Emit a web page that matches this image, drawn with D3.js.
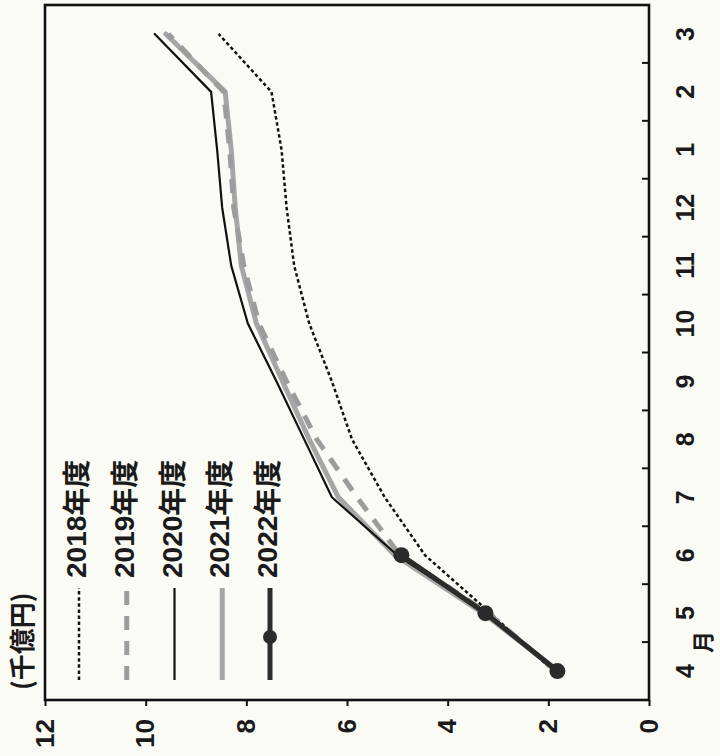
<!DOCTYPE html>
<html><head><meta charset="utf-8">
<script src="https://cdn.jsdelivr.net/npm/d3@7"></script>
<style>
html,body{margin:0;padding:0;background:#fbfbf5;}
svg{display:block;}
</style></head>
<body>
<svg id="chart" width="720" height="756"></svg>
<script>
const months = ["4","5","6","7","8","9","10","11","12","1","2","3"];
const yTicks = [0,2,4,6,8,10,12];
const seriesNames = ["2018年度","2019年度","2020年度","2021年度","2022年度"];
const v2018 = [1.9, 3.15, 4.45, 5.25, 5.9, 6.3, 6.75, 7.05, 7.2, 7.3, 7.5, 8.55];
const v2019 = [1.85, 3.2, 4.95, 5.8, 6.6, 7.2, 7.75, 8.05, 8.25, 8.33, 8.45, 9.55];
const v2020 = [1.85, 3.25, 5.0, 6.3, 6.85, 7.4, 7.97, 8.3, 8.48, 8.58, 8.7, 9.82];
const v2021 = [1.8, 3.3, 5.05, 6.17, 6.75, 7.28, 7.8, 8.1, 8.22, 8.3, 8.42, 9.6];
const v2022 = [1.82, 3.25, 4.92];
const unitLabel = "(千億円)";
const monthUnit = "月";

const svg = d3.select("#chart");
svg.append("rect").attr("width",720).attr("height",756).attr("fill","#fbfbf5");
// chart drawn in its own upright frame (756 wide x 720 tall), then turned a quarter to the left
const g = svg.append("g").attr("transform","translate(0,756) rotate(-90)");

const L = 56, R = 751, T = 45, B = 649;
const x = d3.scaleBand().domain(months).range([L,R]);
const y = d3.scaleLinear().domain([0,12]).range([B,T]);

const numFont = "'Liberation Sans Narrow','Arial Narrow','Liberation Sans',sans-serif";
const cjkFont = "'Noto Sans CJK JP','Noto Sans CJK SC',sans-serif";

const styles = {
  "2018年度": {stroke:"#111", width:2.5, dash:"3.5,2.6"},
  "2019年度": {stroke:"#9c9c9c", width:5, dash:"14,11"},
  "2020年度": {stroke:"#111", width:2.2, dash:null},
  "2021年度": {stroke:"#a6a6a6", width:5, dash:null},
  "2022年度": {stroke:"#2b2b2b", width:5, dash:null, marker:true}
};
const dataMap = {"2018年度":v2018,"2019年度":v2019,"2020年度":v2020,"2021年度":v2021,"2022年度":v2022};
const drawOrder = ["2018年度","2021年度","2019年度","2020年度","2022年度"];

const line = d3.line().x((d,i)=>x(months[i])+x.bandwidth()/2).y(d=>y(d));

// value axis (left in upright frame)
const ya = g.append("g").attr("transform",`translate(${L},0)`)
  .call(d3.axisLeft(y).tickValues(yTicks).tickSize(6).tickPadding(13).tickFormat(d3.format("d")));
ya.select(".domain").remove();
ya.selectAll(".tick line").attr("stroke","#111").attr("stroke-width",2);
ya.selectAll(".tick text").attr("font-family",numFont).attr("font-size",26).attr("font-weight","bold").attr("fill","#1a1a1a");

// month axis (bottom)
const xa = g.append("g").attr("transform",`translate(0,${B})`)
  .call(d3.axisBottom(x).tickSize(0).tickPadding(36));
xa.select(".domain").remove();
xa.selectAll(".tick text").attr("font-family",numFont).attr("font-size",25).attr("font-weight","bold").attr("fill","#1a1a1a")
  .attr("dy","0.35em");
// boundary ticks, pointing inward
g.append("g").selectAll("line").data(months.slice(1)).join("line")
  .attr("x1",d=>x(d)).attr("x2",d=>x(d)).attr("y1",B).attr("y2",B-7)
  .attr("stroke","#111").attr("stroke-width",2);

g.append("text").attr("x",x("5")).attr("y",B+56)
  .attr("text-anchor","middle").attr("dominant-baseline","middle")
  .attr("font-family",cjkFont).attr("font-size",22).attr("font-weight","bold").attr("fill","#1a1a1a").text(monthUnit);

// series
drawOrder.forEach(name=>{
  const s = styles[name];
  const p = g.append("path").datum(dataMap[name]).attr("d",line)
    .attr("fill","none").attr("stroke",s.stroke).attr("stroke-width",s.width)
    .attr("stroke-linejoin","round").attr("stroke-linecap", s.dash ? "butt" : "round");
  if (s.dash) p.attr("stroke-dasharray",s.dash);
  if (s.marker) {
    g.append("g").selectAll("circle").data(dataMap[name]).join("circle")
      .attr("cx",(d,i)=>x(months[i])+x.bandwidth()/2).attr("cy",d=>y(d)).attr("r",8)
      .attr("fill","#2b2b2b");
  }
});

// frame
g.append("rect").attr("x",L).attr("y",T).attr("width",R-L).attr("height",B-T)
  .attr("fill","none").attr("stroke","#111").attr("stroke-width",2.6);

// unit label
g.append("text").attr("x",66).attr("y",25).attr("dominant-baseline","middle")
  .attr("font-family",cjkFont).attr("font-size",26).attr("font-weight","bold").attr("fill","#1a1a1a").text(unitLabel);

// legend
const legY = d3.scalePoint().domain(seriesNames).range([79,270]);
seriesNames.forEach(name=>{
  const s = styles[name];
  const yy = legY(name);
  const l = g.append("line").attr("x1",76).attr("x2",168).attr("y1",yy).attr("y2",yy)
    .attr("stroke",s.stroke).attr("stroke-width",s.width);
  if (s.dash) l.attr("stroke-dasharray",s.dash);
  if (s.marker) g.append("circle").attr("cx",119).attr("cy",yy).attr("r",7).attr("fill","#2b2b2b");
  const t = g.append("text").attr("x",178).attr("y",yy).attr("dominant-baseline","middle")
    .attr("font-size",28).attr("fill","#1a1a1a");
  t.append("tspan").attr("font-family",numFont).attr("font-weight","bold").text(name.slice(0,4));
  t.append("tspan").attr("font-family",cjkFont).attr("font-weight","bold").text(name.slice(4));
});
</script>
</body></html>
